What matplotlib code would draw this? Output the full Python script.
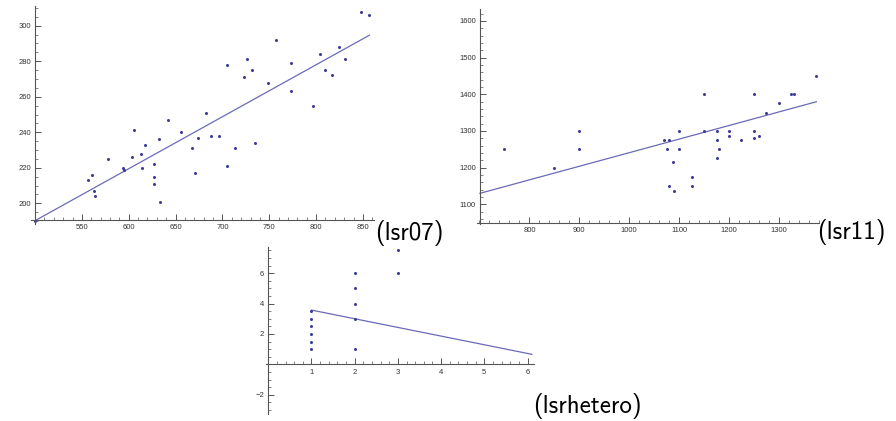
import numpy as np
import matplotlib
matplotlib.use("Agg")
from matplotlib import pyplot as plt
from matplotlib.ticker import MultipleLocator, FixedLocator

# lsr07 data
x07 = [500, 557, 561, 563, 564, 578, 594, 595, 604, 606, 613, 614, 617, 627, 627, 627, 632, 633,
       642, 656, 668, 671, 674, 682, 688, 696, 705, 705, 713, 723, 726, 732, 735, 749, 757, 773,
       773, 797, 804, 809, 817, 824, 831, 848, 856]
y07 = [190, 213, 216, 207, 204, 225, 220, 219, 226, 241, 228, 220, 233, 222, 215, 211, 236, 201,
       247, 240, 231, 217, 237, 251, 238, 238, 278, 221, 231, 271, 281, 275, 234, 268, 292, 279,
       263, 255, 284, 275, 272, 288, 281, 308, 306]
fit07_x = [500, 857]
fit07_y = [190.2, 294.7]

# lsr11 data
x11 = [750, 850, 900, 900, 1070, 1080, 1075, 1080, 1088, 1090, 1100, 1100, 1125, 1125, 1150, 1150,
       1175, 1175, 1175, 1180, 1200, 1200, 1225, 1250, 1250, 1250, 1260, 1275, 1300, 1325, 1330, 1375]
y11 = [1250, 1200, 1300, 1250, 1275, 1275, 1250, 1150, 1215, 1135, 1300, 1250, 1175, 1150, 1400, 1300,
       1300, 1275, 1225, 1250, 1300, 1285, 1275, 1400, 1300, 1280, 1285, 1350, 1375, 1400, 1400, 1450]
fit11_x = [701, 1375]
fit11_y = [1130, 1379.5]

# lsrhetero data
xh = [1, 1, 1, 1, 1, 1, 2, 2, 2, 2, 2, 3, 3]
yh = [3.5, 3, 2.5, 2, 1.5, 1, 6, 5, 4, 3, 1, 7.5, 6]
fith_x = [1, 6.1]
fith_y = [3.57, 0.66]

W, H = 896, 421
fig = plt.figure(figsize=(W / 100, H / 100), dpi=100)

pt_col = "#3d3d99"
ln_col = "#6a6ab8"
ax_col = "#555555"


def panel(px_left, px_right, px_top, px_bottom, xlim, ylim, origin, xmin, ymin, xlabs, ylabs):
    ax = fig.add_axes([px_left / W, 1 - px_bottom / H, (px_right - px_left) / W, (px_bottom - px_top) / H])
    ax.set_xlim(*xlim)
    ax.set_ylim(*ylim)
    ax.patch.set_alpha(0)
    for s in ["top", "right"]:
        ax.spines[s].set_visible(False)
    ax.spines["left"].set_position(("data", origin[0]))
    ax.spines["bottom"].set_position(("data", origin[1]))
    for s in ["left", "bottom"]:
        ax.spines[s].set_color(ax_col)
        ax.spines[s].set_linewidth(0.8)
    ax.xaxis.set_major_locator(FixedLocator(xlabs))
    ax.yaxis.set_major_locator(FixedLocator(ylabs))
    ax.xaxis.set_minor_locator(MultipleLocator(xmin))
    ax.yaxis.set_minor_locator(MultipleLocator(ymin))
    ax.tick_params(which="major", direction="in", length=4, width=0.7, color=ax_col,
                   labelsize=5.5, labelcolor="#333333", pad=3)
    ax.tick_params(which="minor", direction="in", length=2, width=0.5, color=ax_col)
    for lab in ax.get_xticklabels() + ax.get_yticklabels():
        lab.set_fontfamily("Liberation Sans")
    return ax


# panel lsr07
ax1 = panel(31.3, 374.2, 6.2, 223.7, (496, 862), (188.5, 311), (500, 190.6),
            10, 5, [550, 600, 650, 700, 750, 800, 850], [200, 220, 240, 260, 280, 300])
ax1.plot(fit07_x, fit07_y, color=ln_col, lw=0.9)
ax1.plot(x07, y07, "o", color=pt_col, ms=2.2, mew=0)

# panel lsr11
ax2 = panel(477, 818.8, 9.1, 224.5, (695, 1380), (1045, 1632), (701, 1050),
            20, 20, [800, 900, 1000, 1100, 1200, 1300], [1100, 1200, 1300, 1400, 1500, 1600])
ax2.plot(fit11_x, fit11_y, color=ln_col, lw=0.9)
ax2.plot(x11, y11, "o", color=pt_col, ms=2.2, mew=0)

# panel lsrhetero
ax3 = panel(266.1, 534, 247.3, 414.5, (-0.05, 6.15), (-3.3, 7.7), (0, 0),
            0.2, 0.5, [1, 2, 3, 4, 5, 6], [-2, 2, 4, 6])
ax3.yaxis.set_major_formatter(plt.FuncFormatter(lambda v, p: f"{v:g}".replace("-", "\u2212")))
for lab in ax3.get_yticklabels():
    lab.set_fontfamily("Liberation Sans")
ax3.plot(fith_x, fith_y, color=ln_col, lw=0.9)
ax3.plot(xh, yh, "o", color=pt_col, ms=2.2, mew=0)

fig.text(375 / W, 1 - 233 / H, "(lsr07)", fontfamily="cmss10", fontsize=18, va="center", ha="left")
fig.text(817 / W, 1 - 232 / H, "(lsr11)", fontfamily="cmss10", fontsize=18, va="center", ha="left")
fig.text(533 / W, 1 - 406 / H, "(lsrhetero)", fontfamily="cmss10", fontsize=18, va="center", ha="left")

fig.savefig("out.png", dpi=100)
